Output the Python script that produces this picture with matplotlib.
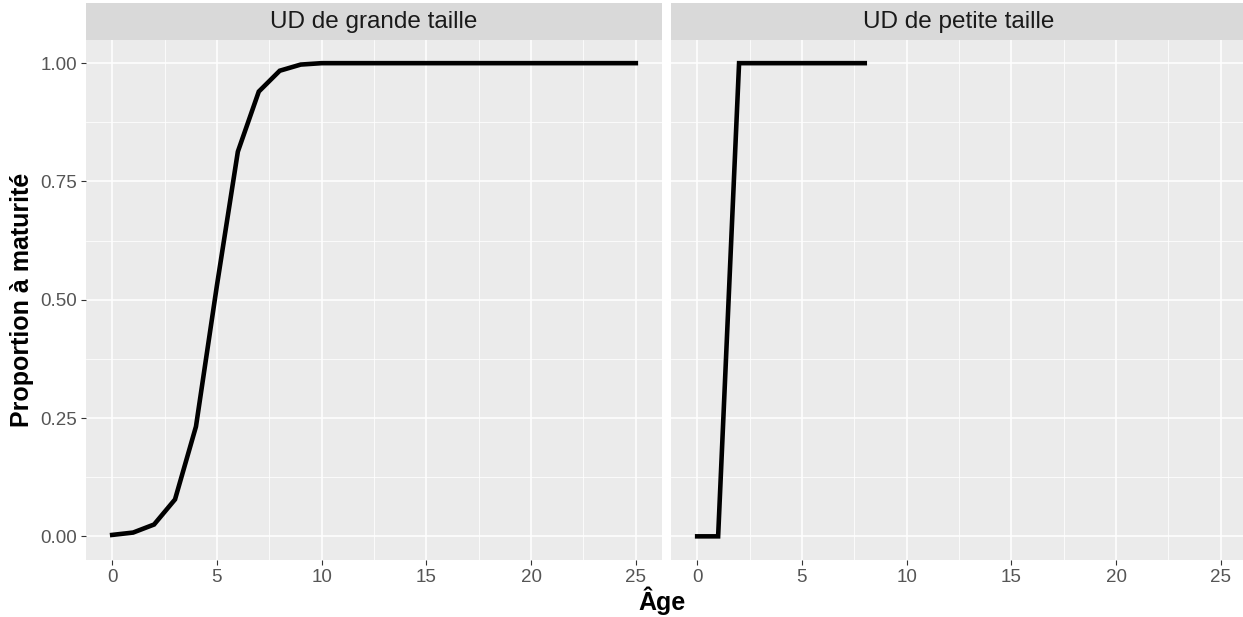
import matplotlib.pyplot as plt
import numpy as np

plt.rcParams['font.family'] = ['Liberation Sans', 'DejaVu Sans']

# données : proportion à maturité selon l'âge
ages_grande = list(range(0, 26))
prop_grande = [0.003, 0.008, 0.025, 0.078, 0.232, 0.53, 0.813, 0.94, 0.984, 0.997,
               1.0, 1.0, 1.0, 1.0, 1.0, 1.0, 1.0, 1.0, 1.0, 1.0,
               1.0, 1.0, 1.0, 1.0, 1.0, 1.0]
ages_petite = [0, 1, 2, 3, 4, 5, 6, 7, 8]
prop_petite = [0.0, 0.0, 1.0, 1.0, 1.0, 1.0, 1.0, 1.0, 1.0]

panels = [("UD de grande taille", ages_grande, prop_grande),
          ("UD de petite taille", ages_petite, prop_petite)]

W, H = 1243, 617
fig = plt.figure(figsize=(W / 100, H / 100), dpi=100)

bg = '#EBEBEB'
strip_bg = '#D9D9D9'
x_ticks = [0, 5, 10, 15, 20, 25]
y_ticks = [0.0, 0.25, 0.5, 0.75, 1.0]

# positions des panneaux (en pixels)
lefts = [86, 671]
width_px = 576
bottom_px = 560
top_px = 39.5
strip_top = 3

for i, (titre, xs, ys) in enumerate(panels):
    l = lefts[i] / W
    b = 1 - bottom_px / H
    w = width_px / W
    h = (bottom_px - top_px) / H
    ax = fig.add_axes([l, b, w, h])
    ax.set_facecolor(bg)
    ax.set_xlim(-1.25, 26.25)
    ax.set_ylim(-0.05, 1.05)
    ax.set_xticks(x_ticks)
    ax.set_xticks([2.5, 7.5, 12.5, 17.5, 22.5], minor=True)
    ax.set_yticks(y_ticks)
    ax.set_yticks([0.125, 0.375, 0.625, 0.875], minor=True)
    ax.grid(which='major', color='white', linewidth=1.1)
    ax.grid(which='minor', color='white', linewidth=0.55)
    ax.set_axisbelow(True)
    for s in ax.spines.values():
        s.set_visible(False)
    ax.tick_params(which='major', length=3.5, width=0.8, color='#333333',
                   labelsize=13.5, labelcolor='#555555', pad=3)
    ax.tick_params(which='minor', length=0)
    if i == 0:
        ax.set_yticklabels(['0.00', '0.25', '0.50', '0.75', '1.00'])
    else:
        ax.tick_params(axis='y', which='major', length=0, labelleft=False)
    ax.plot(xs, ys, color='black', linewidth=3.3, solid_joinstyle='miter')

    # bandeau du titre de facette
    sax = fig.add_axes([l, 1 - top_px / H, w, (top_px - strip_top) / H])
    sax.set_facecolor(strip_bg)
    sax.set_xticks([])
    sax.set_yticks([])
    for s in sax.spines.values():
        s.set_visible(False)
    sax.text(0.5, 0.47, titre, ha='center', va='center', fontsize=17.5,
             color='#1A1A1A', transform=sax.transAxes)

fig.text(22 / W, 1 - 300 / H, 'Proportion à maturité', rotation=90,
         ha='center', va='center', fontsize=18, fontweight='bold')
fig.text(662 / W, 1 - 601 / H, 'Âge', ha='center', va='center',
         fontsize=18, fontweight='bold')

fig.savefig('out.png', dpi=100, facecolor='white')
